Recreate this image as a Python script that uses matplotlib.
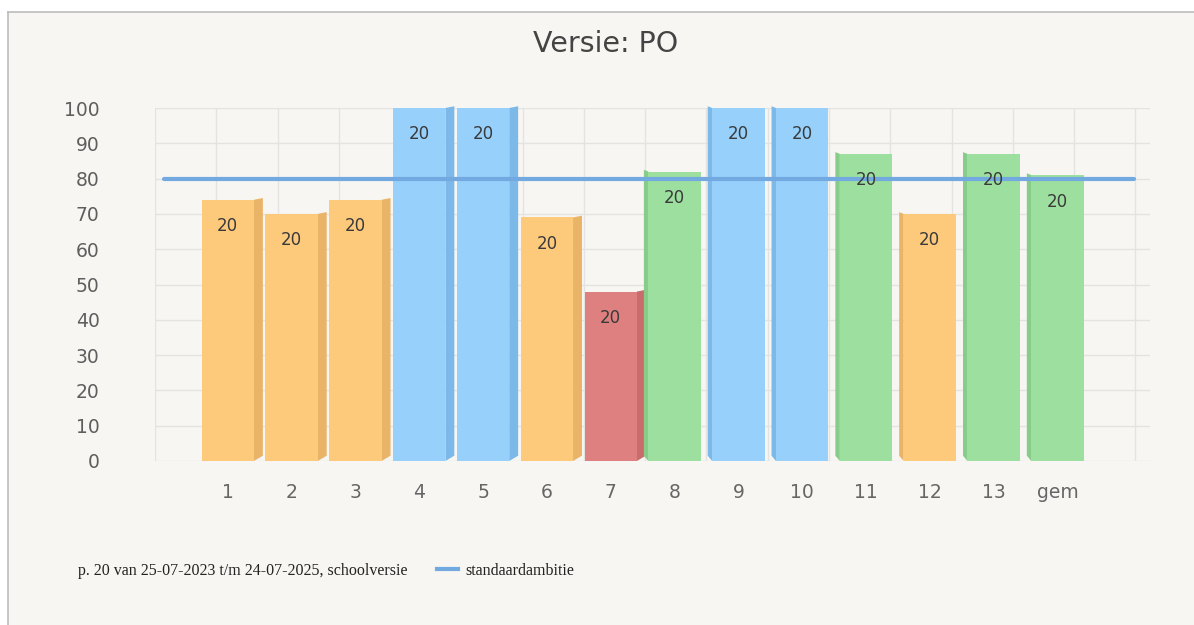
import numpy as np
import matplotlib.pyplot as plt
from matplotlib.lines import Line2D
from matplotlib.patches import Polygon

# data
categories = ["1", "2", "3", "4", "5", "6", "7", "8", "9", "10", "11", "12", "13", "gem"]
scores = [74, 70, 74, 100, 100, 69, 48, 82, 100, 100, 87, 70, 87, 81]
bar_labels = ["20"] * 14
color_groups = ["orange", "orange", "orange", "blue", "blue", "orange", "red",
                "green", "blue", "blue", "green", "orange", "green", "green"]
ambition = [80, 80]

palette = {"orange": "#fdc97b", "blue": "#96d0fb", "red": "#de8080", "green": "#9ddf9e"}
shade = {"orange": "#e9b467", "blue": "#7db9e8", "red": "#c96c6c", "green": "#88cc8a"}
bg = "#f7f6f2"

W, H = 1194, 625
fig = plt.figure(figsize=(W / 100, H / 100), dpi=100, facecolor="white")

# panel background with grey top/left border
panel = fig.add_axes([8 / W, 0, 1 - 8 / W, 1 - 12 / H], zorder=-1)
panel.set_facecolor(bg)
panel.set_xticks([])
panel.set_yticks([])
for side, s in panel.spines.items():
    s.set_visible(side in ("left", "top"))
    s.set_color("#bcbcbc")
    s.set_linewidth(1.2)

# plot area in pixels: x 155..1150, y 0 -> 461, 100 -> 108
ax = fig.add_axes([155 / W, 1 - 461 / H, (1150 - 155) / W, (461 - 108) / H])
ax.set_facecolor("none")
x = np.arange(len(categories))
ax.set_xlim(-1.14, 14.45)
ax.set_ylim(0, 100)

# back wall grid
for yv in range(0, 101, 10):
    ax.axhline(yv, color="#e3e3e1", lw=1, zorder=0)
for xv in np.arange(-1.14, 14.5, 0.96):
    ax.axvline(xv, color="#e3e3e1", lw=1, zorder=0)

bw = 0.82
depth = 0.14
for i, (v, g) in enumerate(zip(scores, color_groups)):
    left = x[i] - bw / 2
    ax.bar(x[i], v, width=bw, color=palette[g], zorder=3, linewidth=0)
    # side face for a slight 3D look
    if i < 7:
        sx = left + bw
        poly = [(sx, 0), (sx + depth, 1.5), (sx + depth, v + 0.5), (sx, v)]
    else:
        sx = left
        poly = [(sx, 0), (sx - depth * 0.5, 1.5), (sx - depth * 0.5, v + 0.5), (sx, v)]
    ax.add_patch(Polygon(poly, closed=True, color=shade[g], zorder=2, lw=0, clip_on=False))
    ax.text(x[i], v - 7.5, bar_labels[i], ha="center", va="center", fontsize=12,
            color="#3a3a3a", zorder=5)

# standaardambitie line
ax.plot([-1.0, 14.2], ambition, color="#72a9e0", lw=3, zorder=4, solid_capstyle="round")

ax.set_xticks(x)
ax.set_xticklabels(categories, fontsize=13.5, color="#666666")
ax.set_yticks(range(0, 101, 10))
ax.set_yticklabels([str(t) for t in range(0, 101, 10)], fontsize=13.5, color="#5e5e5e")
ax.tick_params(axis="both", length=0)
ax.tick_params(axis="x", pad=16)
ax.tick_params(axis="y", pad=40)
for s in ax.spines.values():
    s.set_visible(False)

fig.text(606 / W, 1 - 44 / H, "Versie: PO", ha="center", va="center", fontsize=20.5, color="#444444")

# legend
fig.text(78 / W, 1 - 571 / H, "p. 20 van 25-07-2023 t/m 24-07-2025, schoolversie",
         family="Liberation Serif", fontsize=11.5, color="#222222", va="center")
fig.lines.append(Line2D([437 / W, 458 / W], [1 - 569 / H, 1 - 569 / H], transform=fig.transFigure,
                        color="#72a9e0", lw=3))
fig.text(465 / W, 1 - 571 / H, "standaardambitie", family="Liberation Serif", fontsize=11.5,
         color="#222222", va="center")

fig.savefig("out.png", dpi=100, facecolor="white")
